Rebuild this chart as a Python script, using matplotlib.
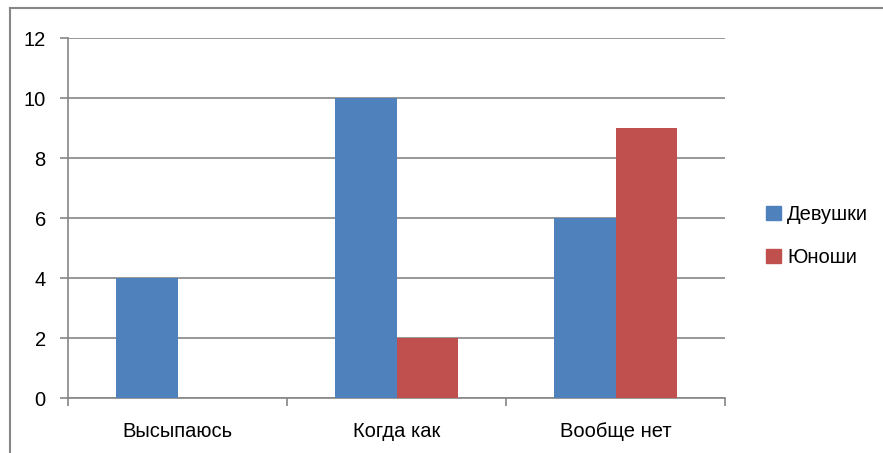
import numpy as np
import matplotlib
matplotlib.use('Agg')
import matplotlib.pyplot as plt
from matplotlib.lines import Line2D
from matplotlib.patches import Patch

# data
categories = ['Высыпаюсь', 'Когда как', 'Вообще нет']
girls = [4, 10, 6]
boys = [0, 2, 9]
yticks = [0, 2, 4, 6, 8, 10, 12]

plt.rcParams['font.family'] = ['Liberation Sans', 'DejaVu Sans']

fig = plt.figure(figsize=(8.83, 4.53), dpi=100)
ax = fig.add_axes([68 / 883, 1 - 398 / 453, (725 - 68) / 883, 360 / 453])

grid_c = '#868686'
x = np.arange(len(categories))
w = 0.283
ax.bar(x - w / 2, girls, w, color='#4F81BD', label='Девушки', zorder=3)
ax.bar(x + w / 2, boys, w, color='#C0504D', label='Юноши', zorder=3)

ax.set_xlim(-0.5, len(categories) - 0.5)
ax.set_ylim(0, 12)
ax.set_yticks(yticks)
ax.yaxis.grid(True, color=grid_c, linewidth=1.2, zorder=0)
ax.set_axisbelow(True)

# category labels at centres, tick marks at boundaries
ax.set_xticks(x)
ax.set_xticklabels(categories, fontsize=14.5)
ax.tick_params(axis='x', length=0, pad=17)
ax.set_xticks(np.arange(len(categories) + 1) - 0.5, minor=True)
ax.tick_params(axis='x', which='minor', length=6, color=grid_c, width=1.2)
ax.tick_params(axis='y', length=6, color=grid_c, width=1.2, labelsize=14.5, pad=10)

for s in ['top', 'right']:
    ax.spines[s].set_visible(False)
for s in ['left', 'bottom']:
    ax.spines[s].set_color(grid_c)
    ax.spines[s].set_linewidth(1.2)

handles = [Patch(color='#4F81BD', label='Девушки'), Patch(color='#C0504D', label='Юноши')]
fig.legend(handles=handles, loc='center left', bbox_to_anchor=(748 / 883, 1 - 236 / 453),
           frameon=False, fontsize=14.5, handlelength=0.75, handleheight=0.75,
           handletextpad=0.3, labelspacing=1.2)

# outer frame (left and top edges visible)
fig.add_artist(Line2D([10 / 883, 10 / 883], [0, 1 - 8 / 453], color=grid_c, lw=1.5))
fig.add_artist(Line2D([10 / 883, 1], [1 - 8 / 453, 1 - 8 / 453], color=grid_c, lw=1.5))

fig.savefig('out.png', dpi=100)
